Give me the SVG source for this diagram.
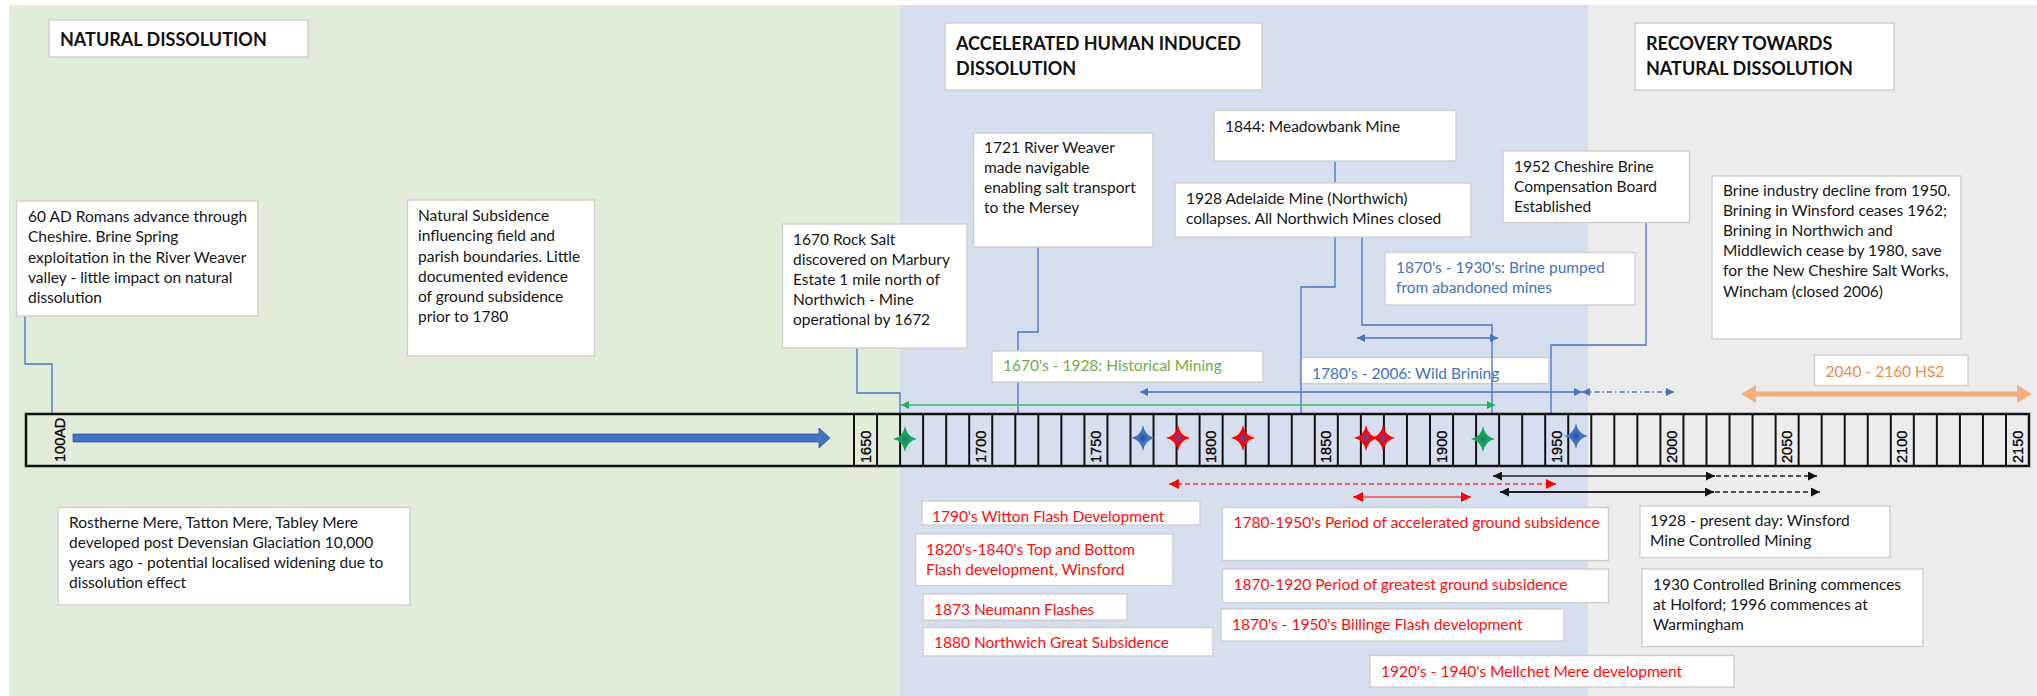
<svg xmlns="http://www.w3.org/2000/svg" xmlns:xlink="http://www.w3.org/1999/xlink" width="2037" height="696" viewBox="0 0 2037 696">
<style>
.box{fill:#fff;stroke:#cfcfcf;stroke-width:1.4}
.t{font-family:Lato,"Liberation Sans",sans-serif;font-size:15.5px;fill:#161616}
.h{font-family:Lato,"Liberation Sans",sans-serif;font-size:18px;font-weight:bold;fill:#111}
.red{fill:#ff0d0d}
.blue{fill:#4472c4}
.green{fill:#70ad47}
.orange{fill:#ef8a4f}
.yr{font-family:"Liberation Sans",Arial,sans-serif;font-size:14.5px;fill:#000;stroke:#000;stroke-width:0.3}
.con{fill:none;stroke:#4472c4;stroke-width:1.3}
.cell{stroke:#111;stroke-width:2}
</style>
<defs>
<marker id="mBlue" viewBox="0 0 10 10" refX="10" refY="5" markerWidth="9" markerHeight="8" markerUnits="userSpaceOnUse" orient="auto-start-reverse"><path d="M0,0 L10,5 L0,10 z" fill="#4472c4"/></marker>
<marker id="mGreen" viewBox="0 0 10 10" refX="10" refY="5" markerWidth="9" markerHeight="8" markerUnits="userSpaceOnUse" orient="auto-start-reverse"><path d="M0,0 L10,5 L0,10 z" fill="#22b05a"/></marker>
<marker id="mBlack" viewBox="0 0 10 10" refX="10" refY="5" markerWidth="9" markerHeight="9" markerUnits="userSpaceOnUse" orient="auto-start-reverse"><path d="M0,0 L10,5 L0,10 z" fill="#111"/></marker>
<marker id="mRed" viewBox="0 0 10 10" refX="10" refY="5" markerWidth="10" markerHeight="10" markerUnits="userSpaceOnUse" orient="auto-start-reverse"><path d="M0,0 L10,5 L0,10 z" fill="#ff0000"/></marker>
<radialGradient id="gRed"><stop offset="0" stop-color="#4b4fa8"/><stop offset="0.2" stop-color="#9b2a6a"/><stop offset="0.4" stop-color="#ff0000"/><stop offset="1" stop-color="#ff0000"/></radialGradient>
<radialGradient id="gGreen"><stop offset="0" stop-color="#2f6f7f"/><stop offset="0.4" stop-color="#10a855"/><stop offset="1" stop-color="#10a855"/></radialGradient>
<radialGradient id="gBlue"><stop offset="0" stop-color="#2c4f9a"/><stop offset="0.4" stop-color="#4472c4"/><stop offset="1" stop-color="#4472c4"/></radialGradient>
<path id="star" d="M0,-13 Q2,-2 12,0 Q2,2 0,13 Q-2,2 -12,0 Q-2,-2 0,-13 Z"/>
</defs>

<!-- background zones -->
<rect x="0" y="0" width="2037" height="696" fill="#ffffff"/>
<rect x="9" y="5" width="891" height="691" fill="#e2ecdb"/>
<rect x="900" y="5" width="688" height="691" fill="#d7deee"/>
<rect x="1588" y="5" width="449" height="691" fill="#ececec"/>

<!-- label box that sits under the connector lines -->
<g id="lbl-wild-brining">
<rect class="box" x="1299.5" y="357.5" width="249.5" height="26"/>
<text class="t blue" x="1312" y="379">1780's - 2006: Wild Brining</text>
</g>

<g id="connectors">
<path class="con" d="M25,316 V364 H52 V414"/>
<path class="con" d="M857,348 V393 H900 V414"/>
<path class="con" d="M1038,247 V332 H1018 V414"/>
<path class="con" d="M1335,161 V287 H1301 V414"/>
<path class="con" d="M1362,237 V325 H1492 V414"/>
<path class="con" d="M1646,222 V345 H1551 V414"/>
<line x1="901" y1="405" x2="1495" y2="405" stroke="#3cb878" stroke-width="1.6" marker-start="url(#mGreen)" marker-end="url(#mGreen)"/>
<line x1="1140" y1="392" x2="1582" y2="392" stroke="#4472c4" stroke-width="1.3" marker-start="url(#mBlue)" marker-end="url(#mBlue)"/>
<line x1="1582" y1="392" x2="1674" y2="392" stroke="#4472c4" stroke-width="1.3" stroke-dasharray="5 3 1.5 3" marker-start="url(#mBlue)" marker-end="url(#mBlue)"/>
<line x1="1357" y1="338" x2="1498" y2="338" stroke="#4472c4" stroke-width="1.3" marker-start="url(#mBlue)" marker-end="url(#mBlue)"/>
<polygon points="1741,394 1756,385 1756,391.5 2017,391.5 2017,385 2032,394 2017,403 2017,396.5 1756,396.5 1756,403" fill="#f4ad7f"/>
<line x1="1493" y1="476" x2="1715" y2="476" stroke="#222" stroke-width="1.5" marker-start="url(#mBlack)" marker-end="url(#mBlack)"/>
<line x1="1716" y1="476" x2="1817" y2="476" stroke="#222" stroke-width="1.5" stroke-dasharray="5 3" marker-end="url(#mBlack)"/>
<line x1="1500" y1="492" x2="1714" y2="492" stroke="#222" stroke-width="1.8" marker-start="url(#mBlack)" marker-end="url(#mBlack)"/>
<line x1="1715" y1="492" x2="1820" y2="492" stroke="#222" stroke-width="1.5" stroke-dasharray="5 3" marker-end="url(#mBlack)"/>
<line x1="1169" y1="484" x2="1556" y2="484" stroke="#ff3b3b" stroke-width="1.5" stroke-dasharray="5 3" marker-start="url(#mRed)" marker-end="url(#mRed)"/>
<line x1="1353" y1="497" x2="1471" y2="497" stroke="#f24a4a" stroke-width="1.6" marker-start="url(#mRed)" marker-end="url(#mRed)"/>
</g>

<!-- timeline -->
<g id="timeline">
<rect x="26" y="414" width="2003" height="52" fill="none" stroke="#111" stroke-width="2.5"/>
<g class="cell">
<line x1="854" y1="414" x2="854" y2="466"/><line x1="877.04" y1="414" x2="877.04" y2="466"/><line x1="900.08" y1="414" x2="900.08" y2="466"/><line x1="923.12" y1="414" x2="923.12" y2="466"/><line x1="946.16" y1="414" x2="946.16" y2="466"/><line x1="969.2" y1="414" x2="969.2" y2="466"/><line x1="992.24" y1="414" x2="992.24" y2="466"/><line x1="1015.28" y1="414" x2="1015.28" y2="466"/><line x1="1038.32" y1="414" x2="1038.32" y2="466"/><line x1="1061.36" y1="414" x2="1061.36" y2="466"/><line x1="1084.4" y1="414" x2="1084.4" y2="466"/><line x1="1107.44" y1="414" x2="1107.44" y2="466"/><line x1="1130.48" y1="414" x2="1130.48" y2="466"/><line x1="1153.52" y1="414" x2="1153.52" y2="466"/><line x1="1176.56" y1="414" x2="1176.56" y2="466"/><line x1="1199.6" y1="414" x2="1199.6" y2="466"/><line x1="1222.64" y1="414" x2="1222.64" y2="466"/><line x1="1245.68" y1="414" x2="1245.68" y2="466"/><line x1="1268.72" y1="414" x2="1268.72" y2="466"/><line x1="1291.76" y1="414" x2="1291.76" y2="466"/><line x1="1314.8" y1="414" x2="1314.8" y2="466"/><line x1="1337.84" y1="414" x2="1337.84" y2="466"/><line x1="1360.88" y1="414" x2="1360.88" y2="466"/><line x1="1383.92" y1="414" x2="1383.92" y2="466"/><line x1="1406.96" y1="414" x2="1406.96" y2="466"/><line x1="1430" y1="414" x2="1430" y2="466"/><line x1="1453.04" y1="414" x2="1453.04" y2="466"/><line x1="1476.08" y1="414" x2="1476.08" y2="466"/><line x1="1499.12" y1="414" x2="1499.12" y2="466"/><line x1="1522.16" y1="414" x2="1522.16" y2="466"/><line x1="1545.2" y1="414" x2="1545.2" y2="466"/><line x1="1568.24" y1="414" x2="1568.24" y2="466"/><line x1="1591.28" y1="414" x2="1591.28" y2="466"/><line x1="1614.32" y1="414" x2="1614.32" y2="466"/><line x1="1637.36" y1="414" x2="1637.36" y2="466"/><line x1="1660.4" y1="414" x2="1660.4" y2="466"/><line x1="1683.44" y1="414" x2="1683.44" y2="466"/><line x1="1706.48" y1="414" x2="1706.48" y2="466"/><line x1="1729.52" y1="414" x2="1729.52" y2="466"/><line x1="1752.56" y1="414" x2="1752.56" y2="466"/><line x1="1775.6" y1="414" x2="1775.6" y2="466"/><line x1="1798.64" y1="414" x2="1798.64" y2="466"/><line x1="1821.68" y1="414" x2="1821.68" y2="466"/><line x1="1844.72" y1="414" x2="1844.72" y2="466"/><line x1="1867.76" y1="414" x2="1867.76" y2="466"/><line x1="1890.8" y1="414" x2="1890.8" y2="466"/><line x1="1913.84" y1="414" x2="1913.84" y2="466"/><line x1="1936.88" y1="414" x2="1936.88" y2="466"/><line x1="1959.92" y1="414" x2="1959.92" y2="466"/><line x1="1982.96" y1="414" x2="1982.96" y2="466"/><line x1="2006" y1="414" x2="2006" y2="466"/>
</g>
<text class="yr" transform="translate(65,462) rotate(-90)">100AD</text>
<text class="yr" transform="translate(870.5,463) rotate(-90)">1650</text>
<text class="yr" transform="translate(985.7,463) rotate(-90)">1700</text>
<text class="yr" transform="translate(1100.9,463) rotate(-90)">1750</text>
<text class="yr" transform="translate(1216.1,463) rotate(-90)">1800</text>
<text class="yr" transform="translate(1331.3,463) rotate(-90)">1850</text>
<text class="yr" transform="translate(1446.5,463) rotate(-90)">1900</text>
<text class="yr" transform="translate(1561.7,463) rotate(-90)">1950</text>
<text class="yr" transform="translate(1676.9,463) rotate(-90)">2000</text>
<text class="yr" transform="translate(1792.1,463) rotate(-90)">2050</text>
<text class="yr" transform="translate(1907.3,463) rotate(-90)">2100</text>
<text class="yr" transform="translate(2022.5,463) rotate(-90)">2150</text>
<polygon points="73,434 819,434 819,428 830,438 819,448 819,442 73,442" fill="#4472c4" stroke="#2f5597" stroke-width="0.8"/>
<use xlink:href="#star" x="905" y="439" fill="url(#gGreen)"/>
<use xlink:href="#star" x="1143" y="438" fill="url(#gBlue)"/>
<use xlink:href="#star" x="1178" y="438" fill="url(#gRed)"/>
<use xlink:href="#star" x="1243" y="438" fill="url(#gRed)"/>
<use xlink:href="#star" x="1366" y="438" fill="url(#gRed)"/>
<use xlink:href="#star" x="1383" y="438" fill="url(#gRed)"/>
<use xlink:href="#star" x="1483" y="439" fill="url(#gGreen)"/>
<use xlink:href="#star" x="1576" y="436" fill="url(#gBlue)"/>
</g>

<g id="title-natural">
<rect class="box" x="49" y="20" width="259" height="37"/>
<text class="h" x="60" y="45.5">NATURAL DISSOLUTION</text>
</g>
<g id="title-accelerated">
<rect class="box" x="945" y="23" width="317" height="67"/>
<text class="h" x="956" y="50">ACCELERATED HUMAN INDUCED</text>
<text class="h" x="956" y="75">DISSOLUTION</text>
</g>
<g id="title-recovery">
<rect class="box" x="1635" y="23" width="259" height="67"/>
<text class="h" x="1646" y="50">RECOVERY TOWARDS</text>
<text class="h" x="1646" y="75">NATURAL DISSOLUTION</text>
</g>

<g id="n-60ad">
<rect class="box" x="16.5" y="201" width="241.5" height="115"/>
<text class="t"><tspan x="28" y="222">60 AD Romans advance through</tspan><tspan x="28" y="242">Cheshire. Brine Spring</tspan><tspan x="28" y="262.5">exploitation in the River Weaver</tspan><tspan x="28" y="282.5">valley - little impact on natural</tspan><tspan x="28" y="303">dissolution</tspan></text>
</g>
<g id="n-natural-subsidence">
<rect class="box" x="407.5" y="200" width="187" height="156"/>
<text class="t"><tspan x="418" y="221">Natural Subsidence</tspan><tspan x="418" y="241">influencing field and</tspan><tspan x="418" y="261.5">parish boundaries. Little</tspan><tspan x="418" y="281.5">documented evidence</tspan><tspan x="418" y="302">of ground subsidence</tspan><tspan x="418" y="322">prior to 1780</tspan></text>
</g>
<g id="n-1670">
<rect class="box" x="782.5" y="224" width="184.5" height="124"/>
<text class="t"><tspan x="793" y="245">1670 Rock Salt</tspan><tspan x="793" y="265">discovered on Marbury</tspan><tspan x="793" y="285">Estate 1 mile north of</tspan><tspan x="793" y="305">Northwich - Mine</tspan><tspan x="793" y="325">operational by 1672</tspan></text>
</g>
<g id="n-1721">
<rect class="box" x="973.5" y="133" width="179.5" height="114"/>
<text class="t"><tspan x="984" y="153">1721 River Weaver</tspan><tspan x="984" y="173">made navigable</tspan><tspan x="984" y="193">enabling salt transport</tspan><tspan x="984" y="213">to the Mersey</tspan></text>
</g>
<g id="n-1844">
<rect class="box" x="1214" y="110.5" width="242" height="50.5"/>
<text class="t" x="1225" y="131.5">1844: Meadowbank Mine</text>
</g>
<g id="n-1928-adelaide">
<rect class="box" x="1175" y="183" width="296" height="54"/>
<text class="t"><tspan x="1186" y="204">1928 Adelaide Mine (Northwich)</tspan><tspan x="1186" y="224">collapses. All Northwich Mines closed</tspan></text>
</g>
<g id="n-brine-pumped">
<rect class="box" x="1385" y="252.5" width="250" height="52.5"/>
<text class="t blue"><tspan x="1396" y="273">1870's - 1930's: Brine pumped</tspan><tspan x="1396" y="293">from abandoned mines</tspan></text>
</g>
<g id="lbl-historical-mining">
<rect class="box" x="992" y="351" width="271" height="31"/>
<text class="t green" x="1003" y="371">1670's - 1928: Historical Mining</text>
</g>
<g id="n-1952">
<rect class="box" x="1503" y="151" width="186.5" height="71.5"/>
<text class="t"><tspan x="1514" y="171.5">1952 Cheshire Brine</tspan><tspan x="1514" y="191.5">Compensation Board</tspan><tspan x="1514" y="211.5">Established</tspan></text>
</g>
<g id="n-brine-decline">
<rect class="box" x="1712" y="176" width="249" height="163"/>
<text class="t"><tspan x="1723" y="196">Brine industry decline from 1950.</tspan><tspan x="1723" y="216">Brining in Winsford ceases 1962;</tspan><tspan x="1723" y="236">Brining in Northwich and</tspan><tspan x="1723" y="256">Middlewich cease by 1980, save</tspan><tspan x="1723" y="276">for the New Cheshire Salt Works,</tspan><tspan x="1723" y="296.5">Wincham (closed 2006)</tspan></text>
</g>
<g id="lbl-hs2">
<rect class="box" x="1814.5" y="355" width="153.5" height="30.5"/>
<text class="t orange" x="1825.5" y="376.5">2040 - 2160 HS2</text>
</g>

<g id="n-meres">
<rect class="box" x="58" y="507.5" width="352" height="97.5"/>
<text class="t"><tspan x="69" y="528">Rostherne Mere, Tatton Mere, Tabley Mere</tspan><tspan x="69" y="547.5">developed post Devensian Glaciation 10,000</tspan><tspan x="69" y="567.5">years ago - potential localised widening due to</tspan><tspan x="69" y="587.5">dissolution effect</tspan></text>
</g>
<g id="n-witton">
<rect class="box" x="922" y="501" width="278" height="24"/>
<text class="t red" x="932" y="522">1790's Witton Flash Development</text>
</g>
<g id="n-top-bottom">
<rect class="box" x="915.5" y="534" width="257.5" height="51.5"/>
<text class="t red"><tspan x="926" y="555">1820's-1840's Top and Bottom</tspan><tspan x="926" y="575">Flash development, Winsford</tspan></text>
</g>
<g id="n-neumann">
<rect class="box" x="923" y="594" width="204" height="26"/>
<text class="t red" x="934" y="615">1873 Neumann Flashes</text>
</g>
<g id="n-great-subsidence">
<rect class="box" x="923" y="627.5" width="290" height="28.5"/>
<text class="t red" x="934" y="648">1880 Northwich Great Subsidence</text>
</g>
<g id="n-accelerated-subsidence">
<rect class="box" x="1222.5" y="507.5" width="386" height="53"/>
<text class="t red" x="1233.5" y="528">1780-1950's Period of accelerated ground subsidence</text>
</g>
<g id="n-greatest-subsidence">
<rect class="box" x="1222.5" y="569" width="386" height="33.5"/>
<text class="t red" x="1233.5" y="590">1870-1920 Period of greatest ground subsidence</text>
</g>
<g id="n-billinge">
<rect class="box" x="1221" y="609" width="343" height="32"/>
<text class="t red" x="1232" y="630">1870's - 1950's Billinge Flash development</text>
</g>
<g id="n-mellchet">
<rect class="box" x="1370" y="655.5" width="364" height="31.5"/>
<text class="t red" x="1381" y="676.5">1920's - 1940's Mellchet Mere development</text>
</g>
<g id="n-winsford-mine">
<rect class="box" x="1640" y="506" width="250" height="51.5"/>
<text class="t"><tspan x="1650" y="526">1928 - present day: Winsford</tspan><tspan x="1650" y="546">Mine Controlled Mining</tspan></text>
</g>
<g id="n-controlled-brining">
<rect class="box" x="1642" y="569" width="281" height="77.5"/>
<text class="t"><tspan x="1653" y="589.5">1930 Controlled Brining commences</tspan><tspan x="1653" y="610">at Holford; 1996 commences at</tspan><tspan x="1653" y="630">Warmingham</tspan></text>
</g>
</svg>
